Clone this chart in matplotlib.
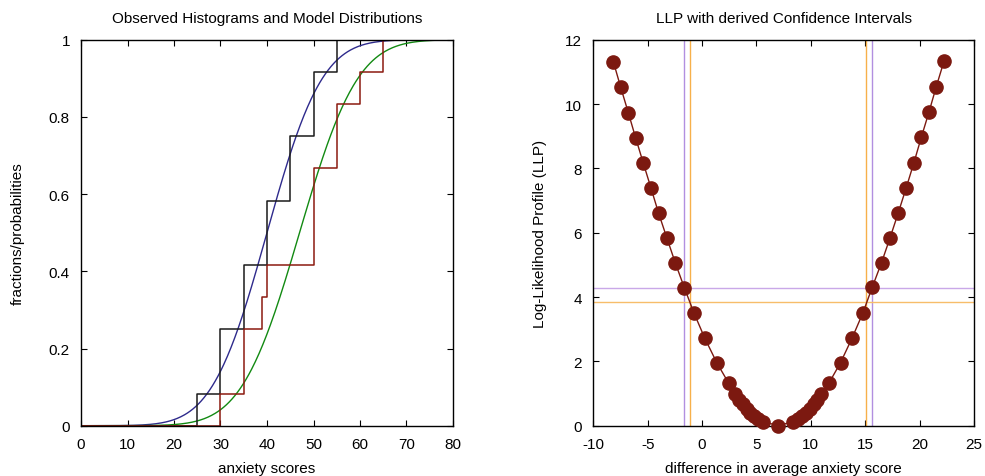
import numpy as np
import matplotlib
matplotlib.use("Agg")
import matplotlib.pyplot as plt
from math import erf, sqrt

plt.rcParams['font.family'] = ['Liberation Sans', 'DejaVu Sans']
plt.rcParams['font.size'] = 11
plt.rcParams['axes.unicode_minus'] = False

# ---- left panel data ----
grp1_x = [0, 25, 30, 35, 40, 45, 50, 55, 80]
grp1_cdf = [0, 1/12, 3/12, 5/12, 7/12, 9/12, 11/12, 12/12, 12/12]
grp2_x = [0, 30, 35, 39, 40, 50, 55, 60, 65, 80]
grp2_cdf = [0, 1/12, 3/12, 4/12, 5/12, 8/12, 10/12, 11/12, 12/12, 12/12]
model1_mean, model1_sd = 40.0, 9.3
model2_mean, model2_sd = 47.0, 9.8

# ---- right panel data ----
llp_x = [-8.16, -7.48, -6.78, -6.10, -5.40, -4.69, -3.99, -3.22, -2.45, -1.63,
         -0.74, 0.25, 1.35, 2.45, 3.05, 3.40, 3.75, 4.10, 4.45, 4.80, 5.15, 5.60,
         7.00,
         8.40, 8.85, 9.20, 9.55, 9.90, 10.25, 10.60, 10.95,
         11.69, 12.73, 13.80, 14.79, 15.64, 16.50, 17.27, 18.04, 18.77, 19.48,
         20.15, 20.86, 21.53, 22.24]
llp_y = [11.32, 10.52, 9.73, 8.94, 8.16, 7.38, 6.60, 5.82, 5.05, 4.29,
         3.50, 2.72, 1.96, 1.32, 0.97, 0.80, 0.66, 0.52, 0.40, 0.30, 0.21, 0.13,
         0.0,
         0.13, 0.21, 0.30, 0.40, 0.52, 0.66, 0.80, 0.97,
         1.34, 1.96, 2.73, 3.51, 4.30, 5.07, 5.83, 6.62, 7.40, 8.18,
         8.96, 9.75, 10.54, 11.33]
ci_purple_x = [-1.63, 15.64]
ci_purple_y = 4.29
ci_orange_x = [-1.10, 15.09]
ci_orange_y = 3.84

W, H = 985, 477
fig = plt.figure(figsize=(W/100, H/100), dpi=100)
ax1 = fig.add_axes([81/W, 1-426.7/H, 372/W, 386/H])
ax2 = fig.add_axes([593.3/W, 1-426.7/H, 380.7/W, 386/H])

# Left
xs = np.linspace(0, 80, 400)
ncdf = np.vectorize(lambda v, m, s: 0.5*(1+erf((v-m)/(s*sqrt(2)))))
ax1.plot(xs, ncdf(xs, model1_mean, model1_sd), color='#2e2a8c', lw=1.0)
ax1.plot(xs, ncdf(xs, model2_mean, model2_sd), color='#128a12', lw=1.0)
ax1.step(grp1_x, grp1_cdf, where='post', color='#1a1a1a', lw=1.1)
ax1.step(grp2_x, grp2_cdf, where='post', color='#8b1a10', lw=1.1)
ax1.set_xlim(0, 80)
ax1.set_ylim(0, 1)
ax1.set_xticks(np.arange(0, 81, 10))
ax1.set_yticks([0, 0.2, 0.4, 0.6, 0.8, 1])
ax1.set_yticklabels(['0', '0.2', '0.4', '0.6', '0.8', '1'])
ax1.set_xlabel('anxiety scores')
ax1.set_ylabel('fractions/probabilities')
ax1.set_title('Observed Histograms and Model Distributions', fontsize=11, pad=13)

# Right
for xv in ci_purple_x:
    ax2.axvline(xv, color='#b28fe0', lw=1.0)
ax2.axhline(ci_purple_y, color='#c9a8e8', lw=1.0)
for xv in ci_orange_x:
    ax2.axvline(xv, color='#f7b04a', lw=1.0)
ax2.axhline(ci_orange_y, color='#f7bd6a', lw=1.0)
ax2.plot(llp_x, llp_y, color='#7c1910', lw=1.0, marker='o', ms=9.5,
         markerfacecolor='#7c1910', markeredgecolor='#7c1910', clip_on=False, zorder=5)
ax2.set_xlim(-10, 25)
ax2.set_ylim(0, 12)
ax2.set_xticks(np.arange(-10, 26, 5))
ax2.set_yticks(np.arange(0, 13, 2))
ax2.set_xlabel('difference in average anxiety score')
ax2.set_ylabel('Log-Likelihood Profile (LLP)')
ax2.set_title('LLP with derived Confidence Intervals', fontsize=11, pad=13)

for ax in (ax1, ax2):
    ax.tick_params(direction='in', top=True, right=True, length=4, width=0.8,
                   labelsize=11, pad=8)
    for s in ax.spines.values():
        s.set_linewidth(1.0)
    ax.xaxis.set_label_coords(0.5, -0.0915)

ax1.yaxis.set_label_coords(-0.169, 0.5)
ax2.yaxis.set_label_coords(-0.14, 0.5)
ax1.yaxis.label.set_va('center')
ax2.yaxis.label.set_va('center')

fig.savefig('out.png', dpi=100)
